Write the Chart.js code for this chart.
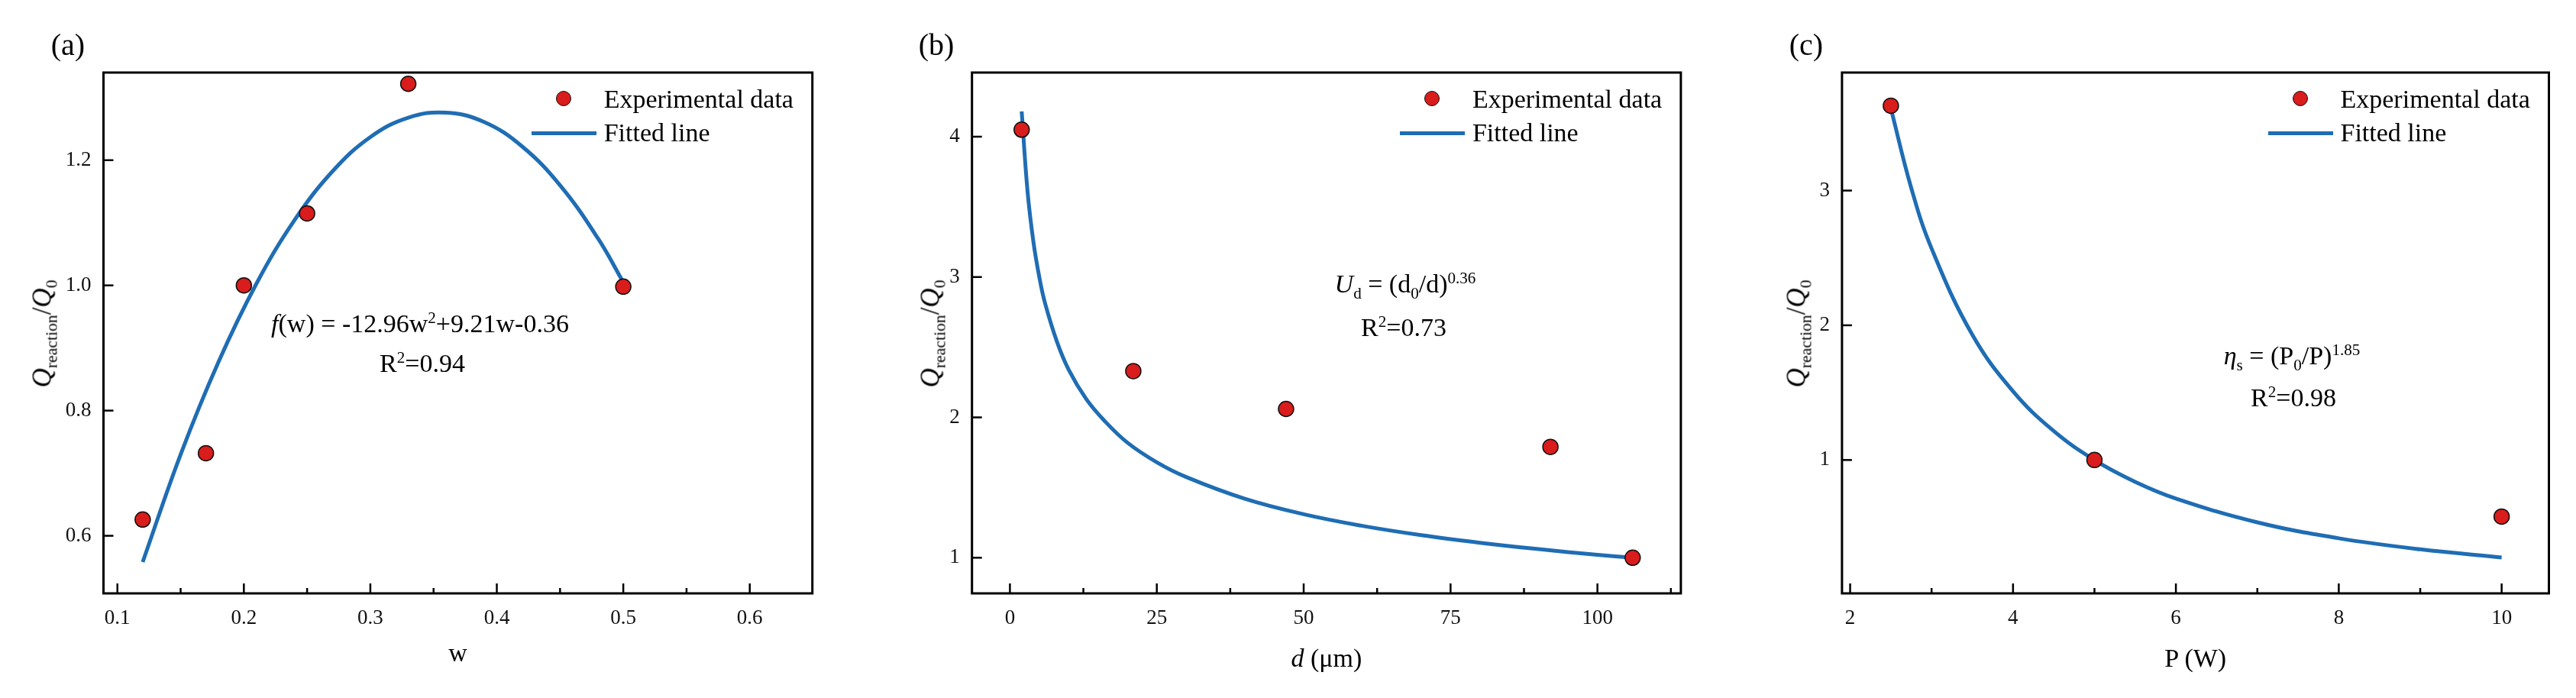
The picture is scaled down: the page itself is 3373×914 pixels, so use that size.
<!DOCTYPE html>
<html>
<head>
<meta charset="utf-8">
<script src="https://cdn.jsdelivr.net/npm/chart.js@4.4.1/dist/chart.umd.min.js"></script>
<style>
  body { margin: 0; background: #fff; }
  #wrap { position: relative; width: 3373px; height: 914px; overflow: hidden;
          font-family: 'Liberation Serif', 'Times New Roman', serif; color: #000; }
  canvas { position: absolute; top: 0; }
  .txt { position: absolute; white-space: nowrap; }
  sup, sub { font-size: 0.62em; line-height: 0; }
  .dot { position: absolute; width: 20px; height: 20px; border-radius: 50%;
         background: #d91c1c; border: 1.5px solid #111; box-sizing: border-box; }
  .lin { position: absolute; height: 5px; background: #1f6db4; }
</style>
</head>
<body>
<div id="wrap">
  <canvas id="ca" width="1130" height="914" style="left:0px"></canvas>
  <canvas id="cb" width="1130" height="914" style="left:1130px"></canvas>
  <canvas id="cc" width="1113" height="914" style="left:2260px"></canvas>
</div>
<script>
// Dados

// (a)
const expW = [0.12, 0.17, 0.20, 0.25, 0.33, 0.50];
const expQa = [0.626, 0.732, 1.0, 1.115, 1.322, 0.998];
const fitW = [0.12, 0.15, 0.18, 0.21, 0.24, 0.27, 0.30, 0.33, 0.36, 0.39, 0.42, 0.45, 0.48, 0.50];
const fitQa = [0.558, 0.730, 0.878, 1.003, 1.104, 1.182, 1.237, 1.268, 1.276, 1.261, 1.222, 1.160, 1.075, 1.005];
const xTicksA = [0.1, 0.2, 0.3, 0.4, 0.5, 0.6];
const yTicksA = [0.6, 0.8, 1.0, 1.2];

// (b)
const expD = [2, 21, 47, 92, 106];
const expQb = [4.05, 2.33, 2.06, 1.79, 1.0];
const fitD = [2, 3, 4, 5, 6, 8, 10, 13, 16, 20, 25, 30, 40, 50, 60, 70, 80, 90, 100, 106];
const fitQb = [4.18, 3.61, 3.25, 3.00, 2.81, 2.54, 2.34, 2.13, 1.98, 1.82, 1.68, 1.575, 1.42, 1.31, 1.227, 1.161, 1.107, 1.061, 1.021, 1.00];
const xTicksB = [0, 25, 50, 75, 100];
const yTicksB = [1, 2, 3, 4];

// (c)
const expP = [2.5, 5, 10];
const expQc = [3.63, 1.0, 0.58];
const fitP = [2.5, 2.75, 3, 3.5, 4, 4.5, 5, 5.5, 6, 7, 8, 9, 10];
const fitQc = [3.61, 3.02, 2.57, 1.93, 1.51, 1.215, 1.00, 0.838, 0.714, 0.537, 0.419, 0.337, 0.277];
const xTicksC = [2, 4, 6, 8, 10];
const yTicksC = [1, 2, 3];

const legendLabels = ['Experimental data', 'Fitted line'];

const panels = [
  { id: 'a', left: 0, width: 1130, frame: [135.5, 1063.7], xMin: 0.089, xMax: 0.6495, yMin: 0.508, yMax: 1.34,
    xTicks: xTicksA, yTicks: yTicksA, xDec: 1, yDec: 1, expX: expW, expY: expQa, fitX: fitW, fitY: fitQa,
    tag: '(a)', tagX: 89,
    xTitle: 'w', xTitleY: 866, yTitleX: 55,
    eq: ['<i>f</i>(w) = -12.96w<sup>2</sup>+9.21w-0.36', 'R<sup>2</sup>=0.94'], eqX: [550, 553], eqY: [435, 487] },
  { id: 'b', left: 1130, width: 1130, frame: [142.7, 1070.9], xMin: -6.46, xMax: 114.2, yMin: 0.746, yMax: 4.457,
    xTicks: xTicksB, yTicks: yTicksB, xDec: 0, yDec: 0, expX: expD, expY: expQb, fitX: fitD, fitY: fitQb,
    tag: '(b)', tagX: 96,
    xTitle: '<i>d</i> (μm)', xTitleY: 873, yTitleX: 88,
    eq: ['<i>U</i><sub>d</sub> = (d<sub>0</sub>/d)<sup>0.36</sup>', 'R<sup>2</sup>=0.73'], eqX: [710, 708], eqY: [383, 440] },
  { id: 'c', left: 2260, width: 1113, frame: [151.9, 1077.5], xMin: 1.9, xMax: 10.58, yMin: 0.01, yMax: 3.876,
    xTicks: xTicksC, yTicks: yTicksC, xDec: 0, yDec: 0, expX: expP, expY: expQc, fitX: fitP, fitY: fitQc,
    tag: '(c)', tagX: 105,
    xTitle: 'P (W)', xTitleY: 873, yTitleX: 92,
    eq: ['<i>η</i><sub>s</sub> = (P<sub>0</sub>/P)<sup>1.85</sup>', 'R<sup>2</sup>=0.98'], eqX: [741, 743], eqY: [477, 532] }
];

// moldura e ticks para dentro
const moldura = {
  id: 'moldura',
  afterDraw(chart) {
    const { ctx, chartArea: a, scales } = chart;
    const sx = scales.x, sy = scales.y;
    ctx.save();
    ctx.strokeStyle = '#000';
    ctx.lineWidth = 2.5;
    const tick = (x1, y1, x2, y2) => { ctx.beginPath(); ctx.moveTo(x1, y1); ctx.lineTo(x2, y2); ctx.stroke(); };
    const tx = sx.ticks.map(t => t.value);
    const stepX = tx[1] - tx[0];
    tx.forEach(v => tick(sx.getPixelForValue(v), a.bottom, sx.getPixelForValue(v), a.bottom - 13));
    for (let v = tx[0] - stepX / 2; v < sx.max; v += stepX) {
      if (v > sx.min) tick(sx.getPixelForValue(v), a.bottom, sx.getPixelForValue(v), a.bottom - 7);
    }
    sy.ticks.forEach(t => tick(a.left, sy.getPixelForValue(t.value), a.left + 13, sy.getPixelForValue(t.value)));
    ctx.lineWidth = 3;
    ctx.strokeRect(a.left, a.top, a.right - a.left, a.bottom - a.top);
    ctx.restore();
  }
};

const wrap = document.getElementById('wrap');
function put(html, x, base, size, center) {
  const d = document.createElement('div');
  d.className = 'txt';
  d.innerHTML = html;
  d.style.fontSize = size + 'px';
  d.style.lineHeight = size + 'px';
  d.style.left = x + 'px';
  d.style.top = (base - size * 0.8375) + 'px';
  if (center) d.style.transform = 'translateX(-50%)';
  wrap.appendChild(d);
  return d;
}

function montar(p) {
  const pts = p.expX.map((x, i) => ({ x: x, y: p.expY[i] }));
  const fit = p.fitX.map((x, i) => ({ x: x, y: p.fitY[i] }));
  const fonte = { family: 'Liberation Serif', size: 27 };
  new Chart(document.getElementById('c' + p.id), {
    type: 'scatter',
    data: {
      datasets: [
        { label: legendLabels[0], data: pts, pointRadius: 10, pointBackgroundColor: '#d91c1c',
          pointBorderColor: '#111', pointBorderWidth: 1.5 },
        { label: legendLabels[1], data: fit, showLine: true, pointRadius: 0, borderColor: '#1f6db4',
          borderWidth: 5, tension: 0.4, fill: false }
      ]
    },
    options: {
      responsive: false,
      animation: false,
      devicePixelRatio: 1,
      layout: { padding: { top: 95, right: p.width - p.frame[1], left: 0, bottom: 0 } },
      plugins: { legend: { display: false }, tooltip: { enabled: false } },
      scales: {
        x: {
          type: 'linear', min: p.xMin, max: p.xMax,
          grid: { display: false, drawTicks: false }, border: { display: false },
          afterFit: s => { s.height = 137; },
          afterBuildTicks: s => { s.ticks = p.xTicks.map(v => ({ value: v })); },
          ticks: { padding: 17, color: '#111', font: fonte, callback: v => v.toFixed(p.xDec) }
        },
        y: {
          type: 'linear', min: p.yMin, max: p.yMax,
          grid: { display: false, drawTicks: false }, border: { display: false },
          afterFit: s => { s.width = p.frame[0]; },
          afterBuildTicks: s => { s.ticks = p.yTicks.map(v => ({ value: v })); },
          ticks: { padding: 16, color: '#111', font: fonte, callback: v => v.toFixed(p.yDec) }
        }
      }
    },
    plugins: [moldura]
  });

  // textos
  const L = p.left, R = p.left + p.frame[1];
  put(p.tag, L + p.tagX, 72, 40, true);
  put(p.xTitle, L + (p.frame[0] + p.frame[1]) / 2, p.xTitleY, 34, true);
  const yt = put('<i>Q</i><sub>reaction</sub>/<i>Q</i><sub>0</sub>', L + p.yTitleX, 0, 35, false);
  yt.style.top = '437px';
  yt.style.transform = 'translate(-50%, -50%) rotate(-90deg)';
  p.eq.forEach((h, i) => put(h, L + p.eqX[i], p.eqY[i], 34, true));

  // legenda
  const dot = document.createElement('div');
  dot.className = 'dot';
  dot.style.left = (R - 326 - 10) + 'px';
  dot.style.top = (129 - 10) + 'px';
  wrap.appendChild(dot);
  const lin = document.createElement('div');
  lin.className = 'lin';
  lin.style.left = (R - 368) + 'px';
  lin.style.width = '85px';
  lin.style.top = (174 - 2.5) + 'px';
  wrap.appendChild(lin);
  put(legendLabels[0], R - 273, 141, 34, false);
  put(legendLabels[1], R - 273, 185, 34, false);
}

panels.forEach(montar);
</script>
</body>
</html>
